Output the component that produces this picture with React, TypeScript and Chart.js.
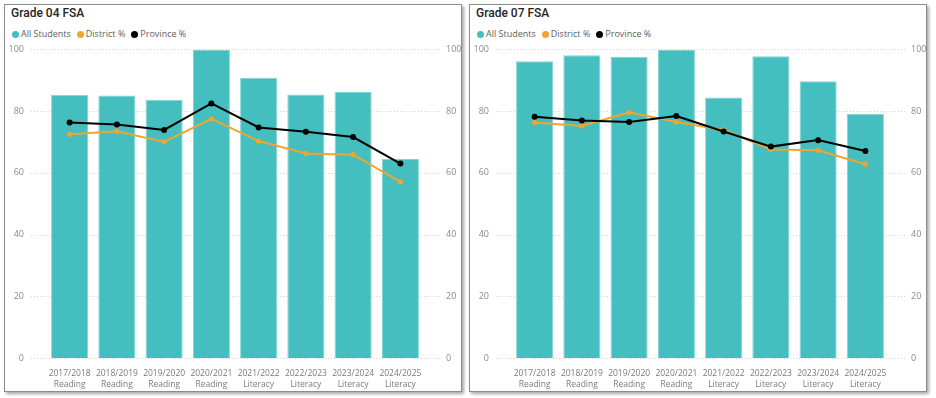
import React, { useEffect, useRef } from "react";
import { Chart, registerables } from "chart.js";

Chart.register(...registerables);

const categories: string[][] = [
  ["2017/2018", "Reading"],
  ["2018/2019", "Reading"],
  ["2019/2020", "Reading"],
  ["2020/2021", "Reading"],
  ["2021/2022", "Literacy"],
  ["2022/2023", "Literacy"],
  ["2023/2024", "Literacy"],
  ["2024/2025", "Literacy"],
];

const seriesNames = ["All Students", "District %", "Province %"];

const g4AllStudents = [85.3, 85.1, 83.7, 100, 90.8, 85.4, 86.2, 64.5];
const g4District = [72.5, 73.5, 70.0, 77.5, 70.3, 66.3, 65.9, 57.1];
const g4Province = [76.3, 75.7, 73.9, 82.5, 74.7, 73.3, 71.6, 63.0];

const g7AllStudents = [96.2, 98.1, 97.6, 100, 84.4, 97.8, 89.7, 79.1];
const g7District = [76.3, 75.2, 79.6, 76.5, 73.9, 67.6, 67.3, 62.8];
const g7Province = [78.2, 77.0, 76.5, 78.4, 73.4, 68.5, 70.6, 67.1];

const yTicks = [0, 20, 40, 60, 80, 100];

const TEAL = "#44BEBE";
const ORANGE = "#F2A52E";
const BLACK = "#000000";
const FONT = "'Open Sans', 'Noto Sans', sans-serif";

const gridPlugin = {
  id: "extGrid",
  beforeDatasetsDraw(chart: any) {
    const { ctx, chartArea, scales } = chart;
    const y = scales.y;
    ctx.save();
    ctx.strokeStyle = "#d4d4d4";
    ctx.lineWidth = 1;
    ctx.setLineDash([1, 2]);
    for (const v of yTicks) {
      const py = Math.round(y.getPixelForValue(v)) + 0.5;
      ctx.beginPath();
      ctx.moveTo(chartArea.left - 15, py);
      ctx.lineTo(chartArea.right + 16, py);
      ctx.stroke();
    }
    ctx.restore();
  },
};

function ChartPanel(props: {
  title: string;
  left: number;
  all: number[];
  district: number[];
  province: number[];
}) {
  const ref = useRef<HTMLCanvasElement | null>(null);

  useEffect(() => {
    if (!ref.current) return;
    const xFont = { family: FONT, size: 8.5, lineHeight: 1.3 };
    const yFont = { family: FONT, size: 9 };
    const chart = new Chart(ref.current, {
      type: "bar",
      data: {
        labels: categories,
        datasets: [
          {
            type: "line",
            label: seriesNames[2],
            data: props.province,
            borderColor: BLACK,
            backgroundColor: BLACK,
            borderWidth: 2,
            pointRadius: 3,
            pointBackgroundColor: BLACK,
            pointBorderWidth: 0,
            order: 1,
            yAxisID: "y",
          } as any,
          {
            type: "line",
            label: seriesNames[1],
            data: props.district,
            borderColor: ORANGE,
            backgroundColor: ORANGE,
            borderWidth: 2,
            pointRadius: 2.6,
            pointBackgroundColor: ORANGE,
            pointBorderWidth: 0,
            order: 2,
            yAxisID: "y",
          } as any,
          {
            type: "bar",
            label: seriesNames[0],
            data: props.all,
            backgroundColor: TEAL,
            borderColor: "#7fd6d6",
            borderWidth: 1,
            categoryPercentage: 1,
            barPercentage: 0.785,
            order: 3,
            yAxisID: "y",
          } as any,
        ],
      },
      options: {
        animation: false,
        responsive: false,
        maintainAspectRatio: false,
        layout: { padding: { top: 8, left: 0, right: 0, bottom: 0 } },
        plugins: {
          legend: { display: false },
          title: { display: false },
          tooltip: { enabled: false },
        },
        scales: {
          x: {
            offset: true,
            grid: { display: false, drawTicks: false },
            border: { display: false },
            ticks: {
              color: "#7a7a7a",
              font: xFont,
              padding: 10,
              maxRotation: 0,
              autoSkip: false,
            },
            afterFit(scale: any) {
              scale.height = 34;
            },
          },
          y: {
            position: "left",
            min: 0,
            max: 100,
            afterBuildTicks(scale: any) {
              scale.ticks = yTicks.map((v) => ({ value: v }));
            },
            grid: { display: false, drawTicks: false },
            border: { display: false },
            ticks: { color: "#8a8a8a", font: yFont, padding: 22 },
            afterFit(scale: any) {
              scale.width = 40;
            },
          },
          y1: {
            position: "right",
            min: 0,
            max: 100,
            afterBuildTicks(scale: any) {
              scale.ticks = yTicks.map((v) => ({ value: v }));
            },
            grid: { display: false, drawTicks: false },
            border: { display: false },
            ticks: { color: "#8a8a8a", font: yFont, padding: 22 },
            afterFit(scale: any) {
              scale.width = 38;
            },
          },
        },
      } as any,
      plugins: [gridPlugin],
    });
    return () => chart.destroy();
  }, []);

  const legendColors = [TEAL, ORANGE, BLACK];

  return (
    <>
      <div
        style={{
          position: "absolute",
          left: props.left - 1,
          top: 4,
          width: 458,
          height: 388,
          border: "1px solid #8c8c8c",
          boxShadow: "2px 2px 3px rgba(0,0,0,0.35)",
          background: "#fff",
          boxSizing: "border-box",
        }}
      />
      <div
        style={{
          position: "absolute",
          left: props.left + 6,
          top: 5,
          fontFamily: "Roboto, 'DejaVu Sans', sans-serif",
          fontWeight: 500,
          fontSize: 12,
          color: "#252423",
          lineHeight: "17px",
        }}
      >
        {props.title}
      </div>
      <div
        style={{
          position: "absolute",
          left: props.left + 7,
          top: 27,
          display: "flex",
          alignItems: "center",
          fontFamily: FONT,
          fontSize: 9,
          color: "#605E5C",
          lineHeight: "14px",
          whiteSpace: "nowrap",
        }}
      >
        {seriesNames.map((n, i) => (
          <div key={n} style={{ display: "flex", alignItems: "center", marginRight: 6 }}>
            <span
              style={{
                display: "inline-block",
                width: 7,
                height: 7,
                borderRadius: "50%",
                background: legendColors[i],
                marginRight: 2,
              }}
            />
            <span>{n}</span>
          </div>
        ))}
      </div>
      <canvas
        ref={ref}
        width={456}
        height={370}
        style={{ position: "absolute", left: props.left + 1, top: 22, width: 456, height: 370 }}
      />
    </>
  );
}

export default function App() {
  return (
    <div
      style={{
        position: "absolute",
        left: 0,
        top: 0,
        width: 936,
        height: 398,
        background: "#fff",
        overflow: "hidden",
      }}
    >
      <ChartPanel title="Grade 04 FSA" left={5} all={g4AllStudents} district={g4District} province={g4Province} />
      <ChartPanel title="Grade 07 FSA" left={470} all={g7AllStudents} district={g7District} province={g7Province} />
    </div>
  );
}
